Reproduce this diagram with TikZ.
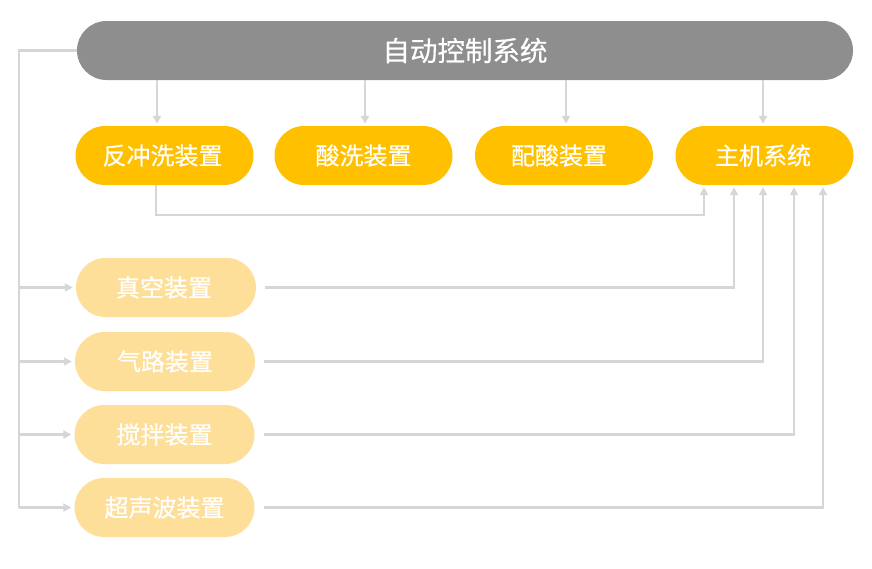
\documentclass[tikz,border=0pt]{standalone}
\usepackage{fontspec}
\setmainfont[BoldFont={Noto Sans CJK SC}, BoldFeatures={FakeBold=0.4}]{Noto Sans CJK SC}
\usetikzlibrary{arrows.meta}
\definecolor{topgray}{HTML}{8E8E8E}
\definecolor{mainyel}{HTML}{FFC000}
\definecolor{lightyel}{HTML}{FDDF9A}
\definecolor{linegray}{HTML}{D6D6D6}
\begin{document}
\begin{tikzpicture}[x=1pt,y=-1pt,
  pill/.style={rectangle, rounded corners=29.5pt, minimum height=59pt, inner sep=0pt, text=white, font=\fontsize{24}{28}\selectfont\bfseries},
  mainpill/.style={pill, fill=mainyel, minimum width=178pt},
  lightpill/.style={pill, fill=lightyel, minimum width=180pt},
  topbar/.style={pill, fill=topgray, minimum width=776pt, font=\fontsize{27.5}{31}\selectfont\bfseries},
  conn/.style={draw=linegray, line width=2.8pt, -{Triangle[width=8pt,length=8pt]}}
]
\useasboundingbox (0,0) rectangle (872,568);
\node[topbar] (top) at (465,50.5) {自动控制系统};
\node[mainpill] (r1) at (164.5,155.5) {反冲洗装置\kern4pt};
\node[mainpill] (r2) at (363.5,155.5) {酸洗装置};
\node[mainpill] (r3) at (564,155.5) {配酸装置\kern10pt};
\node[mainpill] (r4) at (764.5,155.5) {主机系统\kern3pt};
\node[lightpill] (l1) at (166,287.5) {真空装置\kern4pt};
\node[lightpill] (l2) at (165,361.5) {气路装置};
\node[lightpill] (l3) at (164.5,434.5) {搅拌装置};
\node[lightpill] (l4) at (164.5,507.5) {超声波装置};
% column coordinates
\coordinate (c1) at (157,0);
\coordinate (c2) at (365,0);
\coordinate (c3) at (566,0);
\coordinate (c4) at (763,0);
\coordinate (fb) at (156,215);
\coordinate (fbr) at (704,215);
\coordinate (lx) at (19,50.5);
\coordinate (k1) at (734,0);
\coordinate (k2) at (763,0);
\coordinate (k3) at (794,0);
\coordinate (k4) at (823,0);
% top to row 1
\draw[conn, shorten >=2pt] (top.south -| c1) -- (r1.north -| c1);
\draw[conn, shorten >=2pt] (top.south -| c2) -- (r2.north -| c2);
\draw[conn, shorten >=2pt] (top.south -| c3) -- (r3.north -| c3);
\draw[conn, shorten >=2pt] (top.south -| c4) -- (r4.north -| c4);
% feedback from r1 to r4
\draw[conn, shorten >=2pt] (r1.south -| fb) -- (fb) -- (fbr) -- (r4.south -| fbr);
% left bus
\draw[draw=linegray, line width=2.8pt] (top.west) -- (lx) -- (lx |- l4);
\draw[conn, shorten >=3pt] (lx |- l1) -- (l1.west);
\draw[conn, shorten >=3pt] (lx |- l2) -- (l2.west);
\draw[conn, shorten >=3pt] (lx |- l3) -- (l3.west);
\draw[conn, shorten >=3pt] (lx |- l4) -- (l4.west);
% light pills to main system
\draw[conn, shorten <=9pt, shorten >=2pt] (l1.east) -- (l1.east -| k1) -- (r4.south -| k1);
\draw[conn, shorten <=9pt, shorten >=2pt] (l2.east) -- (l2.east -| k2) -- (r4.south -| k2);
\draw[conn, shorten <=9pt, shorten >=2pt] (l3.east) -- (l3.east -| k3) -- (r4.south -| k3);
\draw[conn, shorten <=9pt, shorten >=2pt] (l4.east) -- (l4.east -| k4) -- (r4.south -| k4);
\end{tikzpicture}
\end{document}
